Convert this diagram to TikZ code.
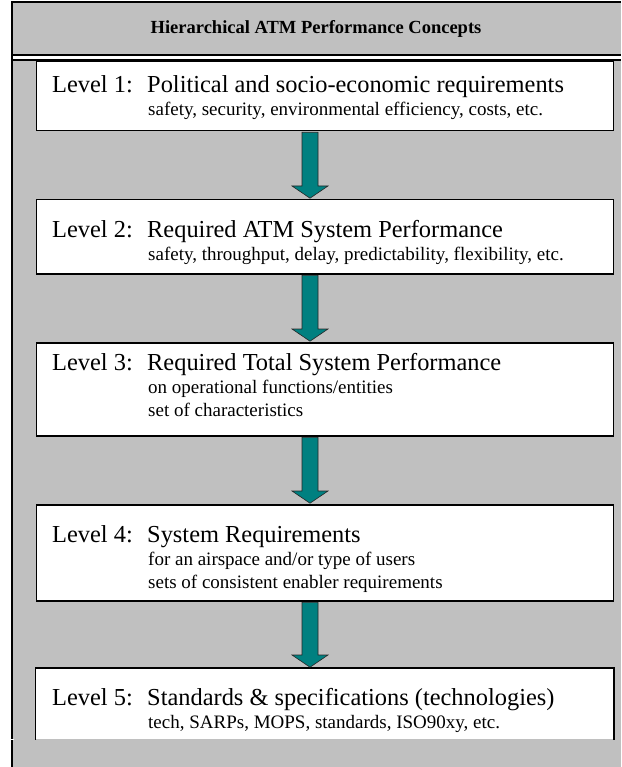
\documentclass[tikz,border=0pt]{standalone}
\usepackage{fontspec}
\setmainfont{Liberation Serif}
\usepackage{xcolor}
\usepackage{tikz}
\usetikzlibrary{calc}

\definecolor{panelgray}{RGB}{192,192,192}
\definecolor{arrowteal}{RGB}{0,128,128}

\newcommand{\lvlline}[2]{{\fontsize{24.4}{23}\selectfont\makebox[95pt][l]{Level #1:}#2}}
\newcommand{\subline}[1]{\hspace*{96pt}#1}

\begin{document}
\begin{tikzpicture}[x=1pt, y=1pt,
    lvlbox/.style={draw, fill=white, line width=1.5pt, minimum width=577pt,
                   anchor=north west, inner sep=0pt},
    lvltxt/.style={anchor=north west, inner sep=0pt, align=left,
                   font=\fontsize{19}{23}\selectfont},
    fat/.style={fill=arrowteal, draw=black!85, line width=0.6pt}]
  \useasboundingbox (0,0) rectangle (621,-767);
  % panel and title row
  \fill[panelgray] (12,-2) rectangle (621,-767);
  \fill[white] (12,-55) rectangle (621,-60);
  \draw[line width=1.5pt] (12,-767) -- (12,-2) -- (621,-2);
  \draw[line width=1.5pt] (12,-55) -- (621,-55) (12,-60) -- (621,-60);
  \draw[white, line width=1pt] (0,-739) -- (13.5,-739);
  \node[font=\fontsize{18.5}{20}\selectfont\bfseries] (title) at (316,-29)
       {Hierarchical ATM Performance Concepts};

  % level boxes
  \foreach \top/\ht [count=\i] in {61/69, 199/74, 342/93, 504/96}
    \node[lvlbox, minimum height=\ht] (l\i) at (35.5,-\top) {};
  \node[lvlbox, draw=none, minimum height=70] (l5) at (35.5,-668) {};
  \draw[line width=1.5pt] (l5.south west) -- (l5.north west) -- (l5.north east) -- (l5.south east);

  % texts
  \node[lvltxt] (t1) at ([xshift=16.5pt,yshift=-14.4pt]l1.north west)
       {\lvlline{1}{Political and socio-economic requirements}\\
        \subline{safety, security, environmental efficiency, costs, etc.}};
  \node[lvltxt] (t2) at ([xshift=16.5pt,yshift=-21.4pt]l2.north west)
       {\lvlline{2}{Required ATM System Performance}\\
        \subline{safety, throughput, delay, predictability, flexibility, etc.}};
  \node[lvltxt] (t3) at ([xshift=16.5pt,yshift=-11.4pt]l3.north west)
       {\lvlline{3}{Required Total System Performance}\\
        \subline{on operational functions/entities}\\
        \subline{set of characteristics}};
  \node[lvltxt] (t4) at ([xshift=16.5pt,yshift=-21.4pt]l4.north west)
       {\lvlline{4}{System Requirements}\\
        \subline{for an airspace and/or type of users}\\
        \subline{sets of consistent enabler requirements}};
  \node[lvltxt] (t5) at ([xshift=16.5pt,yshift=-20.1pt]l5.north west)
       {\lvlline{5}{Standards \& specifications (technologies)}\\
        \subline{tech, SARPs, MOPS, standards, ISO90xy, etc.}};

  % block arrows between the levels
  \coordinate (axis) at (310,0);
  \foreach \a/\b in {l1/l2, l2/l3, l3/l4, l4/l5}
    \filldraw[fat] ($(\a.south -| axis)+(-8,-0.8)$) -- ($(\b.north -| axis)+(-8,13)$)
      -- ++(-10,0) -- ($(\b.north -| axis)+(0,0.8)$) -- ($(\b.north -| axis)+(18,13)$)
      -- ++(-10,0) -- ($(\a.south -| axis)+(8,-0.8)$) -- cycle;
\end{tikzpicture}
\end{document}
